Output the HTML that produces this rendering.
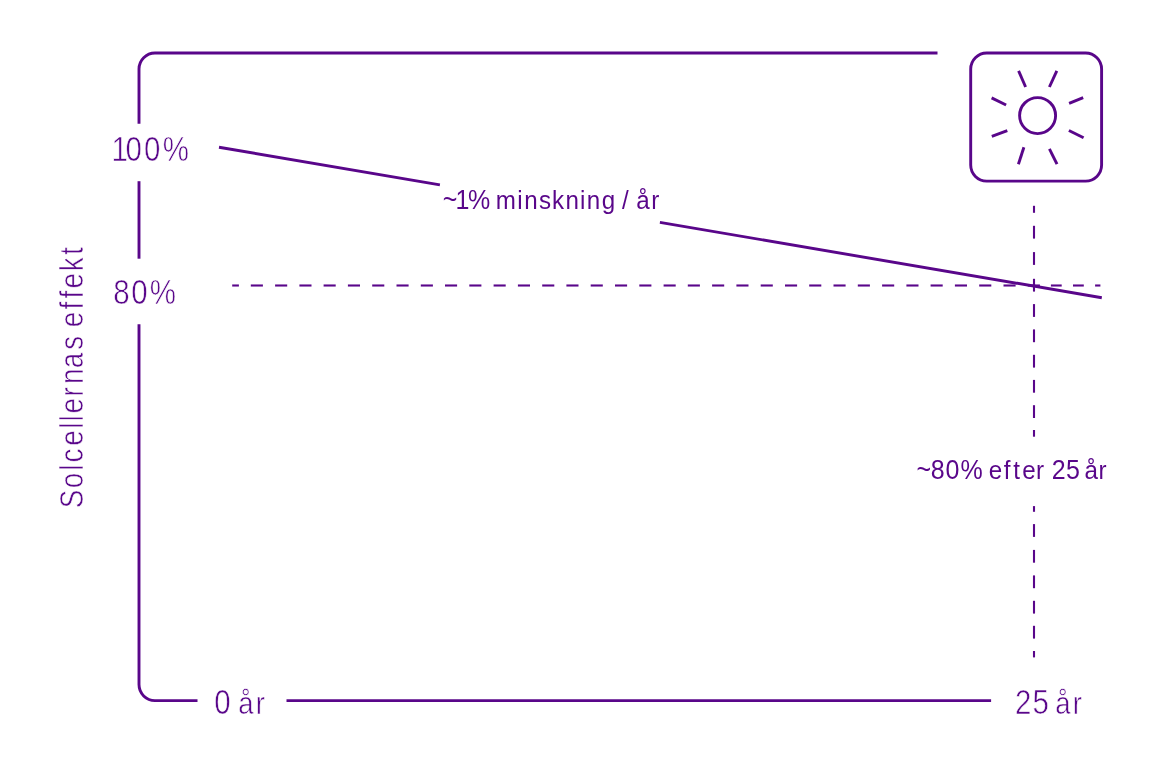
<!DOCTYPE html>
<html lang="sv"><head><meta charset="utf-8"><title>Solcellernas effekt</title>
<style>
html,body{margin:0;padding:0;background:#fff;}
body{width:1159px;height:774px;overflow:hidden;}
svg{display:block;}
text{font-family:"Liberation Sans",sans-serif;fill:#59068a;}
.lt{stroke:#fff;stroke-width:0.6px;}
.md{stroke:none;}
</style></head>
<body>
<svg width="1159" height="774" viewBox="0 0 1159 774">
<text class="lt" y="160.6" transform="scale(0.86 1)"><tspan font-size="34.3" x="129.74 145.93 167.44 189.29">100%</tspan></text>
<text class="lt" y="304.1" transform="scale(0.86 1)"><tspan font-size="34.3" x="131.68 152.61 174.11">80%</tspan></text>
<text class="lt" y="714.0" transform="scale(0.86 1)"><tspan font-size="34.3" x="249.12">0</tspan><tspan font-size="32.0" x="257.12 277.05 297.47"> år</tspan></text>
<text class="lt" y="714.0" transform="scale(0.86 1)"><tspan font-size="34.3" x="1180.17 1200.67">25</tspan><tspan font-size="32.0" x="1208.67 1227.05 1247.35"> år</tspan></text>
<text class="lt" y="0" transform="translate(83.3 510.0) rotate(-90) scale(0.86 1)"><tspan font-size="32.3" x="2.14 25.32 45.65 55.21 74.65 94.37 102.80 112.27 131.97 146.40 164.93 186.42 194.42 212.50 233.11 246.07 257.56 277.62 296.78">Solcellernas effekt</tspan></text>
<text class="md" y="208.9" transform="scale(0.92 1)"><tspan font-size="27.2" x="481.19 495.22 508.72">~1%</tspan><tspan font-size="26.3" x="516.72 538.93 562.19 569.79 585.76 599.91 614.73 630.45 637.78 653.96 661.96 676.02 684.02 691.53 707.82"> minskning / år</tspan></text>
<text class="md" y="479.0" transform="scale(0.92 1)"><tspan font-size="27.2" x="996.24 1011.68 1027.76 1043.89">~80%</tspan><tspan font-size="26.3" x="1051.89 1074.78 1091.14 1101.46 1111.24 1126.08 1134.08"> efter </tspan><tspan font-size="27.2" x="1143.09 1158.66">25</tspan><tspan font-size="26.3" x="1166.66 1178.70 1194.12"> år</tspan></text>
<g fill="none" stroke="#59068a" stroke-width="2.9" stroke-linecap="butt">
<path d="M937.5 53 H155 A16 16 0 0 0 139 69 V123.7"/>
<path d="M139 181.2 V258.7"/>
<path d="M139 324.2 V684.6 A16 16 0 0 0 155 700.6 H197.5"/>
<path d="M286.5 700.6 H991.1"/>
<rect x="970.7" y="53" width="130.9" height="128.1" rx="16" ry="16"/>
<circle cx="1037.6" cy="115.6" r="18"/>
<line x1="1018.6" y1="70.9" x2="1025.6" y2="87.0"/>
<line x1="1056.8" y1="70.9" x2="1049.4" y2="87.0"/>
<line x1="991.6" y1="97.9" x2="1006.1" y2="105.0"/>
<line x1="1083.2" y1="97.6" x2="1069.1" y2="103.4"/>
<line x1="991.8" y1="136.3" x2="1007.3" y2="130.6"/>
<line x1="1083.6" y1="137.7" x2="1068.9" y2="130.5"/>
<line x1="1023.9" y1="147.3" x2="1018.4" y2="164.3"/>
<line x1="1049.4" y1="148.9" x2="1057.0" y2="164.1"/>
<line x1="219" y1="147.2" x2="439.9" y2="184.9"/>
<line x1="659.9" y1="222.4" x2="1101.8" y2="297.7"/>
</g>
<g fill="none" stroke="#59068a" stroke-width="2.1" stroke-linecap="butt">
<line x1="232.2" y1="285.5" x2="238.9" y2="285.5"/>
<line x1="250.8" y1="285.5" x2="262.9" y2="285.5"/>
<line x1="275.1" y1="285.5" x2="287.2" y2="285.5"/>
<line x1="299.4" y1="285.5" x2="311.5" y2="285.5"/>
<line x1="323.6" y1="285.5" x2="335.7" y2="285.5"/>
<line x1="347.9" y1="285.5" x2="360.0" y2="285.5"/>
<line x1="372.2" y1="285.5" x2="384.3" y2="285.5"/>
<line x1="396.5" y1="285.5" x2="408.6" y2="285.5"/>
<line x1="420.8" y1="285.5" x2="432.9" y2="285.5"/>
<line x1="445.0" y1="285.5" x2="457.1" y2="285.5"/>
<line x1="469.3" y1="285.5" x2="481.4" y2="285.5"/>
<line x1="493.6" y1="285.5" x2="505.7" y2="285.5"/>
<line x1="517.9" y1="285.5" x2="530.0" y2="285.5"/>
<line x1="542.2" y1="285.5" x2="554.3" y2="285.5"/>
<line x1="566.4" y1="285.5" x2="578.5" y2="285.5"/>
<line x1="590.7" y1="285.5" x2="602.8" y2="285.5"/>
<line x1="615.0" y1="285.5" x2="627.1" y2="285.5"/>
<line x1="639.3" y1="285.5" x2="651.4" y2="285.5"/>
<line x1="663.6" y1="285.5" x2="675.7" y2="285.5"/>
<line x1="687.8" y1="285.5" x2="699.9" y2="285.5"/>
<line x1="712.1" y1="285.5" x2="724.2" y2="285.5"/>
<line x1="736.4" y1="285.5" x2="748.5" y2="285.5"/>
<line x1="760.7" y1="285.5" x2="772.8" y2="285.5"/>
<line x1="785.0" y1="285.5" x2="797.1" y2="285.5"/>
<line x1="809.2" y1="285.5" x2="821.3" y2="285.5"/>
<line x1="833.5" y1="285.5" x2="845.6" y2="285.5"/>
<line x1="857.8" y1="285.5" x2="869.9" y2="285.5"/>
<line x1="882.1" y1="285.5" x2="894.2" y2="285.5"/>
<line x1="906.4" y1="285.5" x2="918.5" y2="285.5"/>
<line x1="930.6" y1="285.5" x2="942.7" y2="285.5"/>
<line x1="954.9" y1="285.5" x2="967.0" y2="285.5"/>
<line x1="979.2" y1="285.5" x2="991.3" y2="285.5"/>
<line x1="1003.5" y1="285.5" x2="1015.6" y2="285.5"/>
<line x1="1027.8" y1="285.5" x2="1039.9" y2="285.5"/>
<line x1="1050.9" y1="285.5" x2="1061.7" y2="285.5"/>
<line x1="1073.0" y1="285.5" x2="1083.8" y2="285.5"/>
<line x1="1095.1" y1="285.5" x2="1100.4" y2="285.5"/>
<line x1="1034" y1="205.8" x2="1034" y2="212.8"/>
<line x1="1034" y1="225.8" x2="1034" y2="238.6"/>
<line x1="1034" y1="252.1" x2="1034" y2="264.9"/>
<line x1="1034" y1="278.8" x2="1034" y2="291.6"/>
<line x1="1034" y1="304.1" x2="1034" y2="316.9"/>
<line x1="1034" y1="329.4" x2="1034" y2="342.2"/>
<line x1="1034" y1="354.8" x2="1034" y2="367.6"/>
<line x1="1034" y1="379.9" x2="1034" y2="392.7"/>
<line x1="1034" y1="405.2" x2="1034" y2="418.0"/>
<line x1="1034" y1="430.0" x2="1034" y2="436.7"/>
<line x1="1034" y1="506.1" x2="1034" y2="511.8"/>
<line x1="1034" y1="524.1" x2="1034" y2="536.9"/>
<line x1="1034" y1="549.9" x2="1034" y2="562.7"/>
<line x1="1034" y1="575.4" x2="1034" y2="588.2"/>
<line x1="1034" y1="600.8" x2="1034" y2="613.6"/>
<line x1="1034" y1="625.8" x2="1034" y2="638.6"/>
<line x1="1034" y1="651.0" x2="1034" y2="657.4"/>
</g>
</svg>
</body></html>
